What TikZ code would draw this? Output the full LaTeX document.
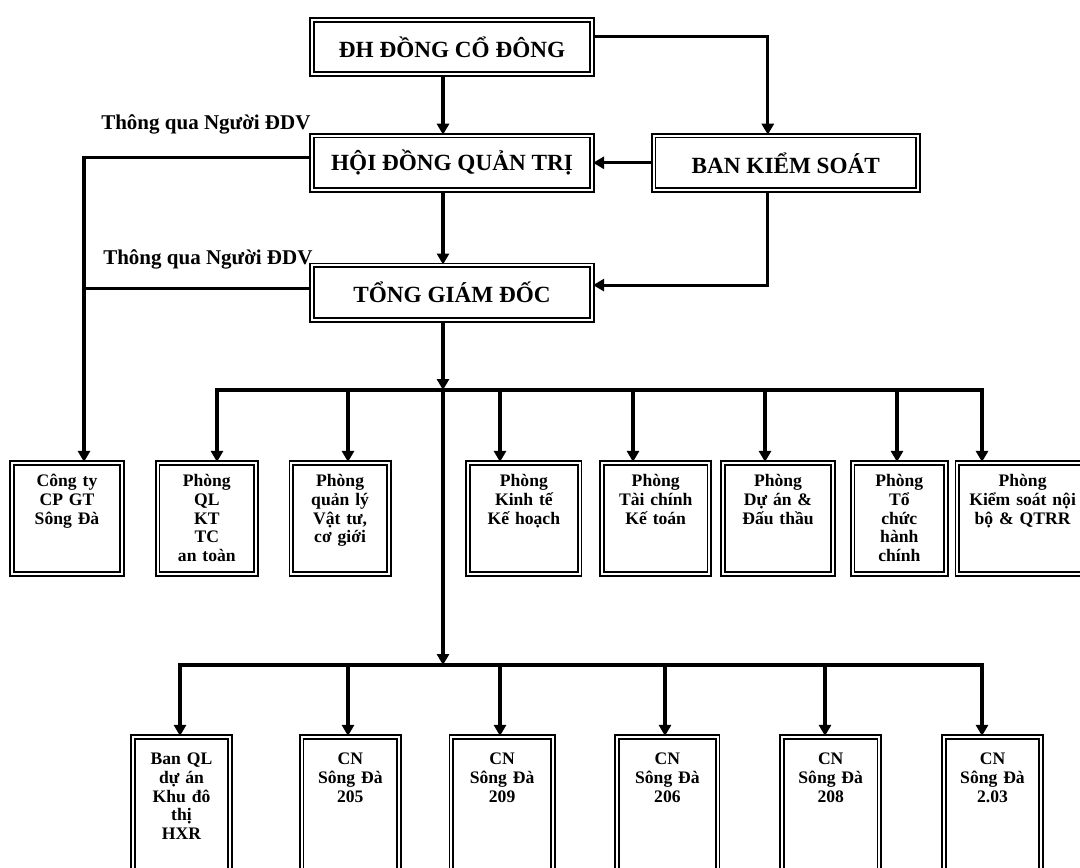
\documentclass[tikz,border=0pt]{standalone}
\usepackage{fontspec}
\setmainfont{Liberation Serif}
\usetikzlibrary{positioning,arrows.meta}

\newcommand\unitfont{\fontsize{8.8}{9.3}\selectfont\bfseries\lineskiplimit=-\maxdimen}

\begin{document}
\begin{tikzpicture}[
    x=1pt, y=-1pt,
    node distance=30pt and 30pt,
    frame/.style={rectangle, draw, double=white, double distance=1pt, line width=0.9pt},
    board/.style={frame, minimum width=140.2pt, minimum height=27.2pt, inner sep=0pt, font=\fontsize{11.6}{13}\selectfont\bfseries},
    dept/.style={frame, align=center, inner xsep=1pt, inner ysep=4pt, text height=8pt, text depth=39.7pt, font=\unitfont},
    branch/.style={frame, align=center, inner xsep=1pt, inner ysep=4pt, text height=10pt, text depth=58.6pt, font=\unitfont},
    note/.style={font=\fontsize{10.5}{12}\selectfont\bfseries, inner sep=0pt},
    link/.style={line width=1.6pt},
    arrow/.style={link, -{Triangle[length=5.5pt,width=6pt]}}
]
    \useasboundingbox (0,0) rectangle (540,433.5);
    \clip (0,0) rectangle (540,433.5);

    % top of the chart
    \node (dh) [board] at (226,23.5) {ĐH ĐỒNG CỔ ĐÔNG};
    \node (hdqt) [board, below=29.8pt of dh] {HỘI ĐỒNG QUẢN TRỊ};
    \node (bks) [board, minimum width=132.2pt, right=29.8pt of hdqt] {BAN KIỂM SOÁT};
    \node (tgd) [board, below=36.8pt of hdqt] {TỔNG GIÁM ĐỐC};
    \node (via1) [note, anchor=base east] at ([yshift=2.5pt]hdqt.north west) {Thông qua Người ĐDV};
    \node (via2) [note, anchor=base east] at ([xshift=1pt]tgd.north west) {Thông qua Người ĐDV};

    % departments
    \node (ctyg) [dept, text width=53.2pt] at (33.5,259.25) {Công ty\\CP GT\\Sông Đà};
    \node (pql) [dept, text width=47.2pt, right=16.8pt of ctyg] {Phòng\\QL\\KT\\TC\\an toàn};
    \node (pvt) [dept, text width=46.7pt, right=16.8pt of pql] {Phòng\\quản lý\\Vật tư,\\cơ giới};
    \node (pkt) [dept, text width=53.7pt, right=38.8pt of pvt] {Phòng\\Kinh tế\\Kế hoạch};
    \node (ptc) [dept, text width=51.7pt, right=10.3pt of pkt] {Phòng\\Tài chính\\Kế toán};
    \node (pda) [dept, text width=53.2pt, right=5.8pt of ptc] {Phòng\\Dự án \&\\Đấu thầu};
    \node (ptch) [dept, text width=44.7pt, right=8.8pt of pda] {Phòng\\Tổ\\chức\\hành\\chính};
    \node (pks) [dept, text width=63.2pt, right=4.8pt of ptch] {Phòng\\Kiểm soát nội\\bộ \& QTRR};

    % branches
    \node (bql) [branch, text width=46.7pt] at (90.75,406.7) {Ban QL\\dự án\\Khu đô\\thị\\HXR};
    \node (cn205) [branch, text width=46.7pt, right=34.8pt of bql] {CN\\Sông Đà\\205};
    \node (cn209) [branch, text width=48.7pt, right=25.3pt of cn205] {CN\\Sông Đà\\209};
    \node (cn206) [branch, text width=48.2pt, right=31.3pt of cn209] {CN\\Sông Đà\\206};
    \node (cn208) [branch, text width=46.7pt, right=31.3pt of cn206] {CN\\Sông Đà\\208};
    \node (cn203) [branch, text width=46.7pt, right=31.3pt of cn208] {CN\\Sông Đà\\2.03};

    % main line
    \coordinate (sp1) at (221.5,195);
    \coordinate (sp2) at (221.5,332.5);
    \draw [arrow] (dh.south -| sp1) -- (hdqt.north -| sp1);
    \draw [arrow] (hdqt.south -| sp1) -- (tgd.north -| sp1);
    \draw [arrow] (tgd.south -| sp1) -- (sp1);
    \draw [arrow] (sp1) -- (sp2);

    \draw [arrow] ([yshift=5.25pt]dh.east) -| ([xshift=-9pt]bks.north);
    \draw [arrow] (bks.west) -- (hdqt.east);
    \draw [arrow] ([xshift=-9pt]bks.south) |- ([yshift=3.75pt]tgd.east);
    \draw [arrow] ([yshift=2.75pt]hdqt.west) -| ([xshift=8.5pt]ctyg.north);
    \coordinate (rail) at ([xshift=8.5pt]ctyg.north);
    \path ([yshift=2pt]tgd.west) coordinate (tgdw);
    \draw [link] (tgdw) -- (tgdw -| rail);

    % buses
    \foreach \u/\x in {pql/108.5, pvt/174, pkt/250, ptc/316.5, pda/382.5, ptch/448.5, pks/491} {
        \coordinate (b1-\u) at (\x,195);
        \draw [arrow] (b1-\u) -- (b1-\u |- \u.north);
    }
    \draw [link, line cap=rect] (b1-pql) -- (b1-pks);
    \foreach \u/\x in {bql/90, cn205/174, cn209/250, cn206/332.5, cn208/412.5, cn203/491} {
        \coordinate (b2-\u) at (\x,332.5);
        \draw [arrow] (b2-\u) -- (b2-\u |- \u.north);
    }
    \draw [link, line cap=rect] (b2-bql) -- (b2-cn203);
\end{tikzpicture}
\end{document}
